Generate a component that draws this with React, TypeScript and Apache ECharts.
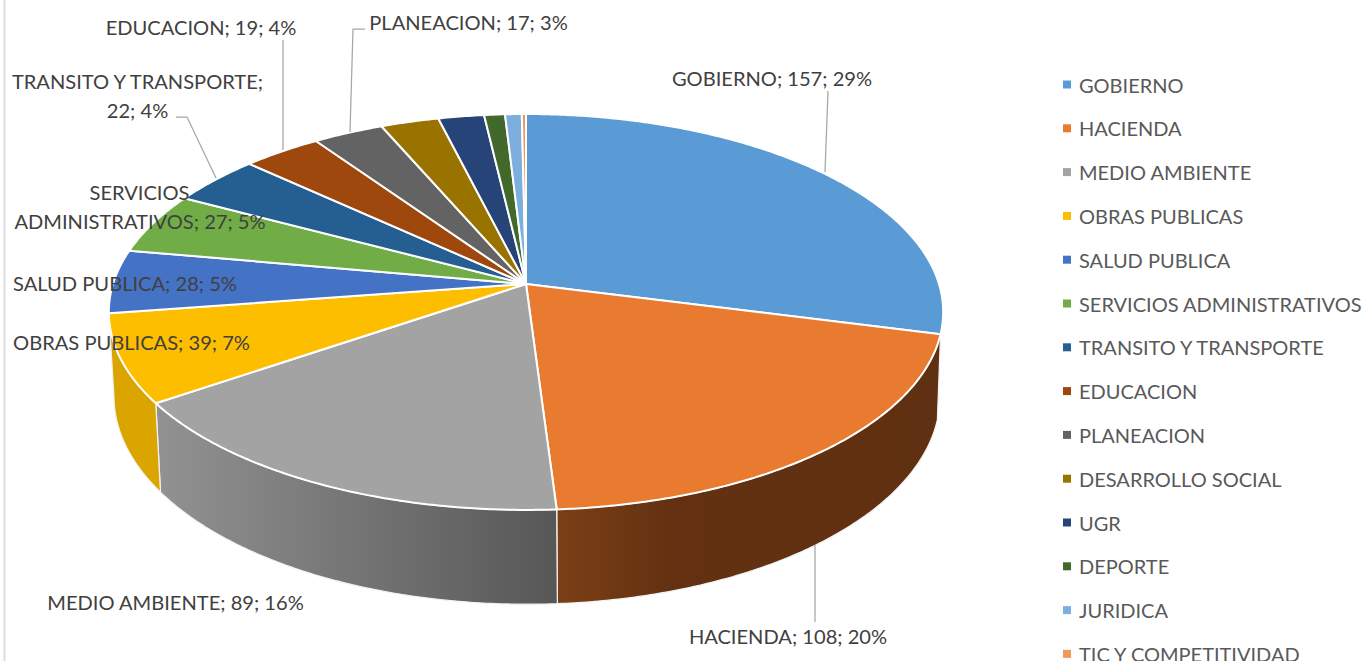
import React, { useEffect, useRef } from "react";
import * as echarts from "echarts";

const categories = ["GOBIERNO","HACIENDA","MEDIO AMBIENTE","OBRAS PUBLICAS","SALUD PUBLICA","SERVICIOS ADMINISTRATIVOS","TRANSITO Y TRANSPORTE","EDUCACION","PLANEACION","DESARROLLO SOCIAL","UGR","DEPORTE","JURIDICA","TIC Y COMPETITIVIDAD"];
const values = [157,108,89,39,28,27,22,19,17,14,11,5,4,1];
const colors = ["#5b9bd5","#e97b30","#a3a3a3","#fdbe00","#4472c4","#70ad47","#255e91","#9e480e","#636363","#997300","#264478","#43682b","#7cafdd","#f1975a"];
const total = values.reduce((a, b) => a + b, 0);

const FONT = "Lato";
const AX = 526, AY = 284, RX = 413, RY = 194, K = 0.1413;
const BASE_X = 527, BASE_Y = 367, BASE_FX = 0.99, BASE_FY = 1.05;

const wallStops: Record<number, [number, string][]> = {
  1: [[0, "#7b3f17"], [0.3, "#633111"], [1, "#5f3011"]],
  2: [[0, "#929292"], [1, "#575757"]],
  3: [[0, "#dba500"], [1, "#dba500"]],
};

const proj = (deg: number, base: boolean) => {
  const t = (deg * Math.PI) / 180;
  const u = Math.sin(t), v = -Math.cos(t);
  const s = 1 / (1 - K * v);
  if (base) return [BASE_X + BASE_FX * RX * u * s, BASE_Y + BASE_FY * RY * v * s];
  return [AX + RX * u * s, AY + RY * v * s];
};

const arc = (a: number, b: number, base: boolean) => {
  const n = Math.max(2, Math.ceil(Math.abs(b - a) * 2));
  const out: number[][] = [];
  for (let i = 0; i <= n; i++) out.push(proj(a + ((b - a) * i) / n, base));
  return out;
};

const makeRender = (idx: number) => (_p: any, api: any) => {
  const val = api.value(0);
  const before = values.slice(0, idx).reduce((a, b) => a + b, 0);
  const a = (before / total) * 360;
  const b = a + (val / total) * 360;
  const children: any[] = [];
  const wall = wallStops[idx];
  if (wall) {
    const top = arc(a, b, false);
    const bot = arc(a, b, true).reverse();
    children.push({
      type: "polygon",
      shape: { points: [...top, ...bot] },
      style: {
        fill: new echarts.graphic.LinearGradient(0, 0, 1, 0, wall.map(([offset, color]) => ({ offset, color }))),
        stroke: "#f2f2f2",
        lineWidth: 1.25,
        lineJoin: "round",
      },
    });
  }
  children.push({
    type: "polygon",
    shape: { points: [[AX, AY], ...arc(a, b, false)] },
    style: { fill: colors[idx], stroke: "#ffffff", lineWidth: 2, lineJoin: "round" },
  });
  return { type: "group", children };
};

const labelFont = `20.1px ${FONT}`;
const labelText = (i: number) => `${categories[i]}; ${values[i]}; ${Math.round((values[i] / total) * 100)}%`;
const labelFor = (i: number, x: number, y: number) => ({
  type: "text", x, y, z: 100,
  style: { text: labelText(i), font: labelFont, fill: "#404040", textAlign: "center", textVerticalAlign: "middle" },
});
const twoLine = (i: number, cut: string, x1: number, y1: number, x2: number, y2: number) => {
  const txt = labelText(i);
  const l1 = txt.slice(0, txt.indexOf(cut) + cut.length);
  const l2 = txt.slice(l1.length).trim();
  return [
    { type: "text", x: x1, y: y1, z: 100, style: { text: l1, font: labelFont, fill: "#404040", textAlign: "center", textVerticalAlign: "middle" } },
    { type: "text", x: x2, y: y2, z: 100, style: { text: l2, font: labelFont, fill: "#404040", textAlign: "center", textVerticalAlign: "middle" } },
  ];
};
const leader = (pts: number[][]) => ({
  type: "polyline", z: 90, shape: { points: pts },
  style: { stroke: "#a6a6a6", lineWidth: 1.25, fill: "none" },
});

export default function App() {
  const ref = useRef<HTMLDivElement>(null);
  useEffect(() => {
    document.body.style.margin = "0";
    document.body.style.overflow = "hidden";
    const chart = echarts.init(ref.current!, undefined, { renderer: "svg" });
    chart.setOption({
      animation: false,
      backgroundColor: "#ffffff",
      legend: {
        show: true,
        orient: "vertical",
        left: 1058,
        top: 69.5,
        height: 800,
        icon: "rect",
        itemWidth: 8,
        itemHeight: 8,
        itemGap: 23.8,
        selectedMode: false,
        data: categories,
        textStyle: { fontFamily: FONT, fontSize: 20, color: "#595959", padding: [0, 0, 0, 3], height: 20, lineHeight: 20 },
      },
      series: categories.map((name, i) => ({
        type: "custom",
        name,
        coordinateSystem: "none",
        silent: true,
        clip: false,
        itemStyle: { color: colors[i] },
        data: [[values[i]]],
        renderItem: makeRender(i),
      })),
      graphic: [
        { type: "line", shape: { x1: 4.5, y1: 0, x2: 4.5, y2: 661 }, style: { stroke: "#dcdcdc", lineWidth: 2 } },
        leader([[828, 91], [825, 172]]),
        leader([[815, 545], [815, 622]]),
        leader([[283, 40], [283, 150]]),
        leader([[365, 29], [353, 29], [350, 132]]),
        leader([[176, 117], [187, 117], [216, 178]]),
        labelFor(0, 772, 77.5),
        labelFor(1, 788, 636),
        labelFor(2, 175.5, 602),
        labelFor(3, 131.5, 342),
        labelFor(4, 125, 283),
        ...twoLine(5, "SERVICIOS", 139.5, 192, 140, 221),
        ...twoLine(6, "TRANSPORTE;", 137.5, 81, 137.5, 110),
        labelFor(7, 201, 27),
        labelFor(8, 468.5, 22),
      ],
    });
    return () => chart.dispose();
  }, []);
  return <div ref={ref} style={{ width: 1365, height: 661 }} />;
}
